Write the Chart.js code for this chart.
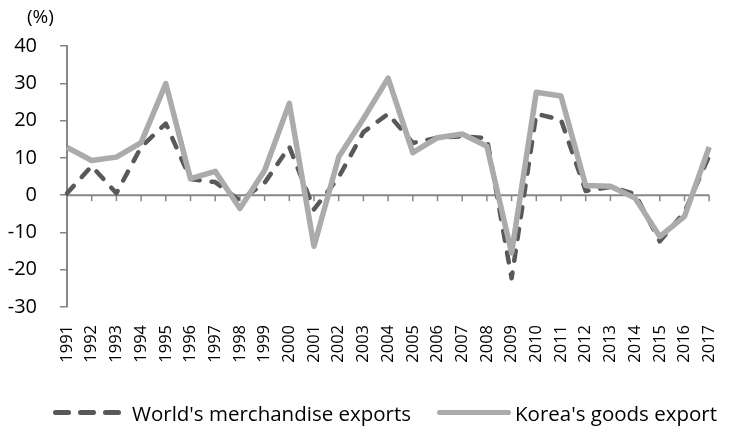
<!DOCTYPE html>
<html>
<head>
<meta charset="utf-8">
<script src="https://cdn.jsdelivr.net/npm/chart.js@4.4.0/dist/chart.umd.min.js"></script>
<style>
  body { margin: 0; background: #fff; }
  #wrap { position: relative; width: 739px; height: 426px; font-family: "Open Sans", sans-serif; color: #000; }
  #unit { position: absolute; left: 27px; top: 4px; font-size: 19px; line-height: 24px; }
  .leg { position: absolute; top: 400px; font-size: 20.5px; line-height: 26px; white-space: nowrap; }
  .leg svg { position: absolute; top: 0; }
</style>
</head>
<body>
<div id="wrap">
  <canvas id="chart" width="739" height="426"></canvas>
  <div id="unit">(%)</div>
  <div class="leg" style="left:53px">
    <svg width="68" height="26" style="left:0"><line x1="2.5" y1="12.5" x2="65.5" y2="12.5" stroke="#595959" stroke-width="5" stroke-linecap="round" stroke-dasharray="13 12"/></svg>
    <span style="position:absolute;left:79px;">World's merchandise exports</span>
  </div>
  <div class="leg" style="left:437px">
    <svg width="76" height="26" style="left:0"><line x1="2.5" y1="12.5" x2="71.5" y2="12.5" stroke="#ababab" stroke-width="5" stroke-linecap="round"/></svg>
    <span style="position:absolute;left:78px;">Korea's goods export</span>
  </div>
</div>
<script>
// Dữ liệu
const years = ['1991','1992','1993','1994','1995','1996','1997','1998','1999','2000','2001','2002','2003','2004',
               '2005','2006','2007','2008','2009','2010','2011','2012','2013','2014','2015','2016','2017'];
const worldExports = [0.5, 7.8, 0.5, 12.9, 19.2, 4.3, 3.5, -1.5, 3.3, 13.0, -3.8, 4.8, 16.9, 21.8,
                      14.0, 15.4, 15.8, 15.3, -22.3, 21.8, 20.2, 1.1, 2.2, 0.3, -12.4, -4.5, 10.5];
const koreaExports = [12.8, 9.3, 10.2, 14.1, 29.9, 4.4, 6.4, -3.6, 6.6, 24.6, -13.7, 10.2, 20.5, 31.4,
                      11.4, 15.4, 16.4, 13.1, -15.5, 27.6, 26.6, 2.6, 2.4, -0.8, -11.1, -5.7, 12.9];
const yMin = -30, yMax = 40, yStep = 10;

const axisGray = '#868686';

// Vẽ trục 0 và các vạch chia trên trục x
const zeroAxis = {
  id: 'zeroAxis',
  beforeDatasetsDraw(chart) {
    const { ctx, chartArea, scales } = chart;
    const y0 = scales.y.getPixelForValue(0);
    ctx.save();
    ctx.strokeStyle = axisGray;
    ctx.lineWidth = 2;
    ctx.beginPath();
    ctx.moveTo(chartArea.left, y0);
    ctx.lineTo(chartArea.right, y0);
    ctx.stroke();
    ctx.lineWidth = 1.5;
    years.forEach((_, i) => {
      const x = scales.x.getPixelForTick(i);
      ctx.beginPath();
      ctx.moveTo(x, y0);
      ctx.lineTo(x, y0 + 6);
      ctx.stroke();
    });
    ctx.restore();
  }
};

new Chart(document.getElementById('chart'), {
  type: 'line',
  data: {
    labels: years,
    datasets: [
      {
        label: "World's merchandise exports",
        data: worldExports,
        borderColor: '#595959',
        borderWidth: 4.5,
        borderDash: [10, 12],
        borderCapStyle: 'round',
        borderJoinStyle: 'round',
        pointRadius: 0,
        tension: 0,
        order: 1
      },
      {
        label: "Korea's goods export",
        data: koreaExports,
        borderColor: '#ababab',
        borderWidth: 5.5,
        borderJoinStyle: 'round',
        pointRadius: 0,
        tension: 0,
        order: 0
      }
    ]
  },
  options: {
    responsive: false,
    animation: false,
    layout: { padding: { top: 46, right: 9, bottom: 64, left: 0 } },
    plugins: { legend: { display: false }, tooltip: { enabled: false } },
    scales: {
      x: {
        grid: { display: false },
        border: { display: false },
        ticks: {
          autoSkip: false, minRotation: 90, maxRotation: 90,
          color: '#000', padding: 10,
          font: { family: 'Open Sans', size: 16.5 }
        },
        afterFit: s => { s.height = 55; }
      },
      y: {
        min: yMin, max: yMax,
        grid: { drawOnChartArea: false, drawTicks: true, tickLength: 7, color: axisGray, lineWidth: 1.5 },
        border: { color: axisGray, width: 2 },
        ticks: {
          stepSize: yStep, color: '#000', padding: 23,
          font: { family: 'Open Sans', size: 20 }
        },
        afterFit: s => { s.width = 67; }
      }
    }
  },
  plugins: [zeroAxis]
});
</script>
</body>
</html>
